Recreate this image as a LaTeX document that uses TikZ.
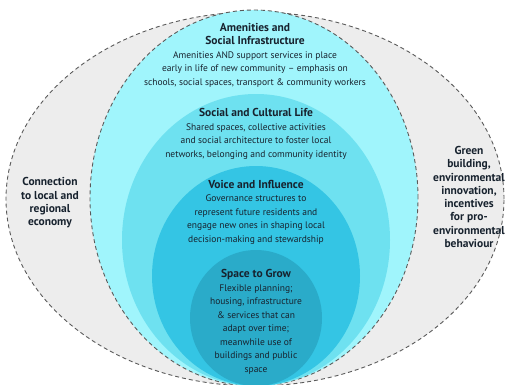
\documentclass[tikz,border=0pt]{standalone}
\usepackage{fontspec}
\setmainfont{PT Sans}
\definecolor{cinza}{HTML}{EDEDED}
\definecolor{borda}{HTML}{5A5A5A}
\definecolor{ciano}{HTML}{A0F5FC}
\definecolor{cianomedio}{HTML}{6EE1F0}
\definecolor{azul}{HTML}{34C5E4}
\definecolor{azulescuro}{HTML}{2AABC9}
\definecolor{tinta}{HTML}{17222E}
\newcommand{\titulo}[1]{{\fontsize{11.5}{13.5}\selectfont\bfseries #1}}
\begin{document}
\begin{tikzpicture}[x=1pt, y=1pt,
    anel/.style={draw=borda, dashed, line width=0.9pt, dash pattern=on 4pt off 3pt},
    txt/.style={font=\fontsize{9.5}{13.5}\selectfont, text=tinta, align=center, inner sep=0pt},
    lado/.style={txt, font=\fontsize{11.5}{13.3}\selectfont\bfseries}]
    \useasboundingbox (0,0) rectangle (506,384);
    \clip (0,0) rectangle (506,384);
    \fill[white] (0,0) rectangle (506,384);

    % Aneis
    \fill[cinza] (255,185) ellipse (249 and 187);
    \draw[anel] (255,185) ellipse (249 and 187);
    \fill[ciano] (254,186) ellipse (164 and 188);
    \draw[anel] (254,186) ellipse (164 and 188);
    \fill[cianomedio] (256,144) ellipse (134 and 146);
    \fill[azul] (256,108) ellipse (104 and 110);
    \fill[azulescuro] (256,66) ellipse (66 and 68);

    % Textos centrais
    \node[txt] (amenidades) at (255,329) {\titulo{Amenities and}\\
        \titulo{Social Infrastructure}\\
        Amenities AND support services in place\\
        early in life of new community -- emphasis on\\
        schools, social spaces, transport \& community workers};
    \node[txt] (cultura) at (256,250) {\titulo{Social and Cultural Life}\\
        Shared spaces, collective activities\\
        and social architecture to foster local\\
        networks, belonging and community identity};
    \node[txt] (voz) at (256,172) {\titulo{Voice and Influence}\\
        Governance structures to\\
        represent future residents and\\
        engage new ones in shaping local\\
        decision-making and stewardship};
    \node[txt] (espaco) at (256,62) {\titulo{Space to Grow}\\
        Flexible planning;\\
        housing, infrastructure\\
        \& services that can\\
        adapt over time;\\
        meanwhile use of\\
        buildings and public\\
        space};

    % Textos laterais
    \node[lado] (economia) at (50,181) {Connection\\ to local and\\ regional\\ economy};
    \node[lado] (verde) at (469,187) {Green\\ building,\\ environmental\\ innovation,\\
        incentives\\ for pro-\\ environmental\\ behaviour};
\end{tikzpicture}
\end{document}
